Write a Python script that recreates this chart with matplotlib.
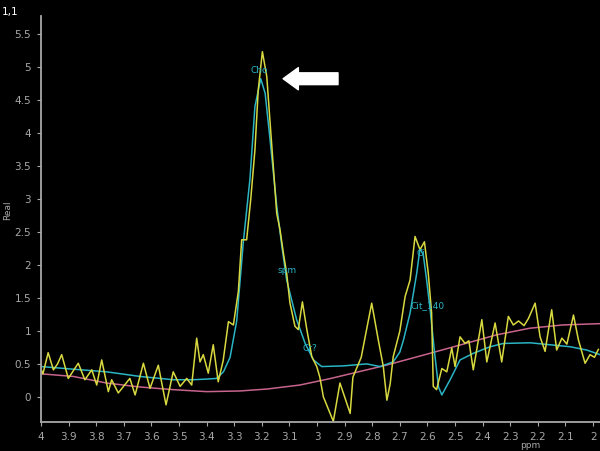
import matplotlib
matplotlib.use("Agg")
import matplotlib.pyplot as plt

# Raw spectrum (yellow)
raw_ppm = [4.000, 3.993, 3.974, 3.955, 3.940, 3.925, 3.901, 3.865, 3.841, 3.816, 3.798, 3.780,
           3.756, 3.744, 3.720, 3.678, 3.659, 3.629, 3.605, 3.575, 3.547, 3.521, 3.496, 3.472,
           3.454, 3.436, 3.424, 3.412, 3.394, 3.376, 3.358, 3.340, 3.321, 3.303, 3.285, 3.273,
           3.255, 3.240, 3.225, 3.213, 3.198, 3.182, 3.170, 3.146, 3.134, 3.122, 3.110, 3.098,
           3.080, 3.068, 3.053, 3.037, 3.019, 3.001, 2.990, 2.977, 2.941, 2.917, 2.900, 2.880,
           2.870, 2.855, 2.840, 2.802, 2.778, 2.760, 2.747, 2.735, 2.724, 2.700, 2.681, 2.663,
           2.645, 2.627, 2.611, 2.597, 2.585, 2.579, 2.567, 2.548, 2.530, 2.512, 2.500, 2.482,
           2.464, 2.450, 2.434, 2.403, 2.385, 2.355, 2.331, 2.307, 2.289, 2.270, 2.250, 2.234,
           2.210, 2.192, 2.174, 2.150, 2.132, 2.113, 2.095, 2.071, 2.053, 2.029, 2.011, 1.995,
           1.981]
raw_val = [0.42, 0.35, 0.67, 0.41, 0.50, 0.64, 0.28, 0.51, 0.26, 0.41, 0.18, 0.56,
           0.08, 0.26, 0.06, 0.28, 0.03, 0.51, 0.13, 0.48, -0.12, 0.38, 0.16, 0.28,
           0.18, 0.89, 0.53, 0.64, 0.36, 0.79, 0.23, 0.55, 1.14, 1.09, 1.60, 2.38,
           2.38, 3.00, 3.74, 4.65, 5.23, 4.85, 4.15, 2.78, 2.53, 2.18, 1.87, 1.42,
           1.07, 1.02, 1.44, 1.02, 0.61, 0.46, 0.30, 0.00, -0.37, 0.21, 0.00, -0.25,
           0.30, 0.45, 0.60, 1.42, 0.86, 0.46, -0.05, 0.20, 0.61, 1.00, 1.52, 1.77,
           2.43, 2.23, 2.35, 1.87, 1.27, 0.16, 0.11, 0.43, 0.38, 0.74, 0.46, 0.91,
           0.81, 0.85, 0.41, 1.17, 0.53, 1.12, 0.53, 1.22, 1.09, 1.15, 1.08, 1.19,
           1.42, 0.91, 0.69, 1.32, 0.71, 0.89, 0.80, 1.24, 0.86, 0.51, 0.64, 0.60,
           0.72]

# Fitted spectrum (cyan)
fit_ppm = [4.000, 3.883, 3.762, 3.641, 3.521, 3.450, 3.400, 3.364, 3.339, 3.315, 3.291, 3.267,
           3.243, 3.225, 3.204, 3.188, 3.170, 3.146, 3.128, 3.110, 3.074, 3.043, 3.013, 2.983,
           2.905, 2.820, 2.772, 2.724, 2.700, 2.687, 2.663, 2.639, 2.627, 2.615, 2.603, 2.591,
           2.575, 2.560, 2.548, 2.518, 2.482, 2.434, 2.373, 2.325, 2.228, 2.156, 2.083, 2.023,
           1.975]
fit_val = [0.46, 0.42, 0.38, 0.31, 0.26, 0.26, 0.27, 0.28, 0.38, 0.60, 1.15, 2.35,
           3.30, 4.40, 4.82, 4.60, 3.89, 2.89, 2.30, 1.77, 1.17, 0.81, 0.56, 0.46,
           0.47, 0.50, 0.46, 0.53, 0.68, 0.86, 1.27, 1.87, 2.25, 2.15, 1.77, 1.35,
           0.70, 0.15, 0.03, 0.26, 0.56, 0.66, 0.76, 0.81, 0.82, 0.79, 0.76, 0.71,
           0.64]

# Baseline (pink)
base_ppm = [4.000, 3.883, 3.762, 3.641, 3.521, 3.400, 3.279, 3.180, 3.062, 2.950, 2.850, 2.750,
            2.600, 2.470, 2.350, 2.230, 2.110, 1.975]
base_val = [0.35, 0.31, 0.21, 0.15, 0.11, 0.08, 0.09, 0.12, 0.18, 0.28, 0.38, 0.48,
            0.65, 0.80, 0.94, 1.04, 1.09, 1.11]

x_ticks = [4.0, 3.9, 3.8, 3.7, 3.6, 3.5, 3.4, 3.3, 3.2, 3.1, 3.0, 2.9, 2.8, 2.7, 2.6, 2.5,
           2.4, 2.3, 2.2, 2.1, 2.0]
y_ticks = [0, 0.5, 1, 1.5, 2, 2.5, 3, 3.5, 4, 4.5, 5, 5.5]

peak_labels = ["Cho", "spm", "Cr?", "Ci", "Cit_140"]
peak_ppm = [3.21, 3.109, 3.025, 2.623, 2.598]
peak_val = [4.94, 1.92, 0.74, 2.18, 1.38]

YELLOW = "#d8d840"
CYAN = "#2ab4c4"
PINK = "#c8648c"
GRAY = "#a8a8a8"

fig = plt.figure(figsize=(6.0, 4.51), dpi=100, facecolor="black")
ax = fig.add_axes([0.0683, 0.0643, 0.9317, 0.9002], facecolor="black")

ax.plot(base_ppm, base_val, color=PINK, lw=1.1)
ax.plot(fit_ppm, fit_val, color=CYAN, lw=1.1)
ax.plot(raw_ppm, raw_val, color=YELLOW, lw=1.1)

for lab, px, py in zip(peak_labels, peak_ppm, peak_val):
    ax.text(px, py, lab, color=CYAN, fontsize=6.5, ha="center", va="center")

ax.annotate("", xy=(3.123, 4.82), xytext=(2.924, 4.82),
            arrowprops=dict(arrowstyle="simple,head_width=1.6,head_length=1.1,tail_width=0.85",
                            color="white", mutation_scale=10, shrinkA=0, shrinkB=0))

ax.set_xlim(4.0, 1.975)
ax.set_ylim(-0.38, 5.77)
ax.set_xticks(x_ticks)
ax.set_xticklabels([("%g" % t) for t in x_ticks])
ax.set_yticks(y_ticks)
ax.set_yticklabels([("%g" % t) for t in y_ticks])

for s in ["top", "right"]:
    ax.spines[s].set_visible(False)
for s in ["left", "bottom"]:
    ax.spines[s].set_color(GRAY)
    ax.spines[s].set_linewidth(1.3)
ax.tick_params(colors=GRAY, labelsize=7.5, length=3, width=0.8, pad=4)

fig.text(2 / 600, 1 - 12 / 451, "1,1", color="white", fontsize=7.5, ha="left", va="center")
fig.text(8 / 600, 1 - 210 / 451, "Real", color=GRAY, fontsize=6.5, rotation=90,
         ha="center", va="center")
fig.text(530 / 600, 1 - 445 / 451, "ppm", color=GRAY, fontsize=6.5, ha="center", va="center")

fig.savefig("out.png", dpi=100, facecolor="black")
